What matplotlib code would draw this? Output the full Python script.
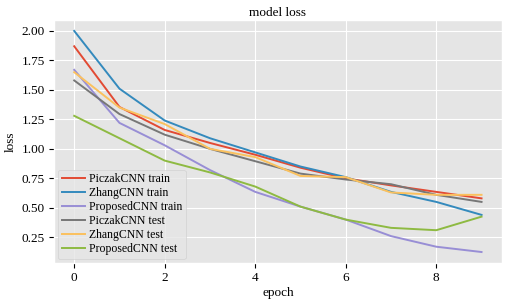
import matplotlib.pyplot as plt

plt.style.use('ggplot')
plt.rcParams['font.family'] = ['Liberation Serif', 'DejaVu Serif']

epochs = list(range(10))

# training / test loss per model
piczak_train = [1.87, 1.355, 1.16, 1.05, 0.95, 0.84, 0.75, 0.69, 0.635, 0.58]
zhang_train = [2.00, 1.51, 1.24, 1.09, 0.97, 0.85, 0.76, 0.635, 0.55, 0.44]
proposed_train = [1.67, 1.22, 1.03, 0.82, 0.635, 0.51, 0.40, 0.26, 0.17, 0.125]
piczak_test = [1.58, 1.295, 1.12, 1.00, 0.895, 0.79, 0.74, 0.70, 0.61, 0.55]
zhang_test = [1.65, 1.35, 1.21, 1.00, 0.93, 0.77, 0.76, 0.63, 0.61, 0.61]
proposed_test = [1.28, 1.09, 0.90, 0.80, 0.68, 0.51, 0.40, 0.33, 0.31, 0.425]

labels = ['PiczakCNN train', 'ZhangCNN train', 'ProposedCNN train',
          'PiczakCNN test', 'ZhangCNN test', 'ProposedCNN test']
series = [piczak_train, zhang_train, proposed_train,
          piczak_test, zhang_test, proposed_test]

fig, ax = plt.subplots(figsize=(5.08, 3.01), dpi=100)
fig.patch.set_facecolor('white')
fig.subplots_adjust(left=0.106, right=0.988, top=0.934, bottom=0.126)

for vals, lab in zip(series, labels):
    ax.plot(epochs, vals, label=lab, linewidth=1.4)

ax.set_title('model loss', fontsize=9.5, pad=3, color='black')
ax.set_xlabel('epoch', fontsize=9.5, labelpad=2, color='black')
ax.set_ylabel('loss', fontsize=9.5, labelpad=3, color='black')
ax.tick_params(labelsize=9.5, colors='black', pad=3)
ax.set_yticks([0.25, 0.5, 0.75, 1.0, 1.25, 1.5, 1.75, 2.0])
ax.legend(loc='lower left', fontsize=8.5, handlelength=2.0,
          borderpad=0.3, labelspacing=0.17, handletextpad=0.3,
          borderaxespad=0.35)

fig.savefig('out.png', dpi=100)
